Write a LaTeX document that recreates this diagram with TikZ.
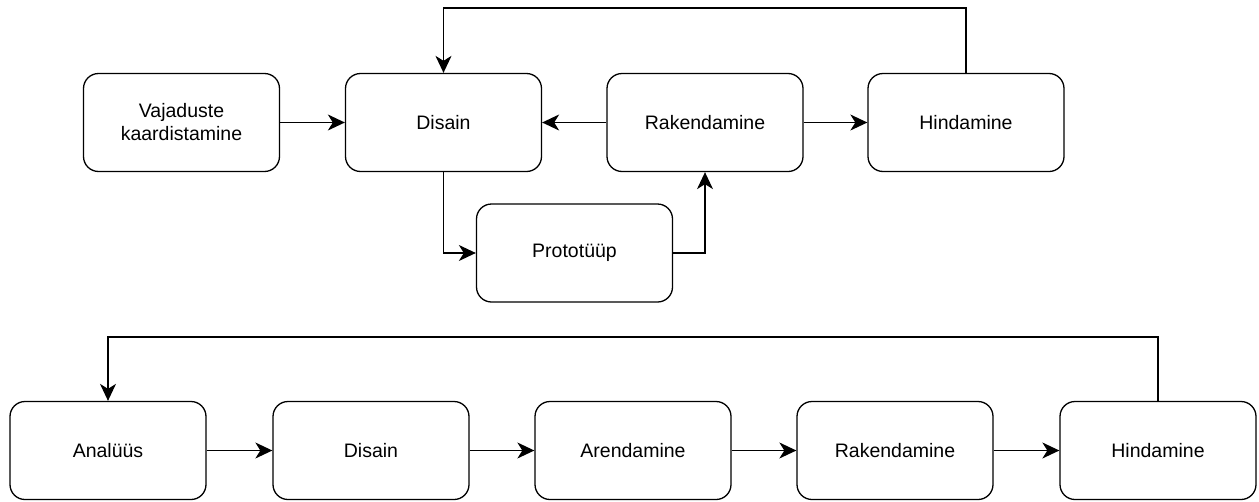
\documentclass[tikz,border=0pt]{standalone}
\usepackage{fontspec}
\setmainfont{Liberation Sans}
\usetikzlibrary{arrows.meta}
\tikzset{box/.style={draw,line width=1.3pt,rounded corners=15pt,
                     minimum width=196pt,minimum height=98pt,align=center,
                     font=\fontsize{19.5}{23}\selectfont},
         conn/.style={-{Stealth[length=17pt,width=16pt,inset=5pt]},line width=1.3pt}}
\begin{document}
\begin{tikzpicture}[x=1pt,y=-1pt]
\useasboundingbox (0,0) rectangle (1259,501);
\node[box] (vaj) at (181.5,122.5) {Vajaduste\\kaardistamine};
\node[box] (dis) at (443.5,122.5) {Disain};
\node[box] (rak) at (705,122.5) {Rakendamine};
\node[box] (hind) at (966,122.5) {Hindamine};
\node[box] (proto) at (574.5,253) {Prototüüp};
\coordinate (topline) at (0,8);
\draw[conn] (vaj) -- (dis);
\draw[conn] (rak) -- (dis);
\draw[conn] (rak) -- (hind);
\draw[conn] (dis.south) |- (proto.west);
\draw[conn] (proto.east) -| (rak.south);
\draw[conn] (hind.north) -- (hind.north |- topline) -- (dis.north |- topline) -- (dis.north);
\node[box] (ana) at (108,450.5) {Analüüs};
\node[box] (dis2) at (371,450.5) {Disain};
\node[box] (are) at (633,450.5) {Arendamine};
\node[box] (rak2) at (895,450.5) {Rakendamine};
\node[box] (hind2) at (1158,450.5) {Hindamine};
\coordinate (botline) at (0,337);
\draw[conn] (ana) -- (dis2);
\draw[conn] (dis2) -- (are);
\draw[conn] (are) -- (rak2);
\draw[conn] (rak2) -- (hind2);
\draw[conn] (hind2.north) -- (hind2.north |- botline) -- (ana.north |- botline) -- (ana.north);
\end{tikzpicture}
\end{document}
